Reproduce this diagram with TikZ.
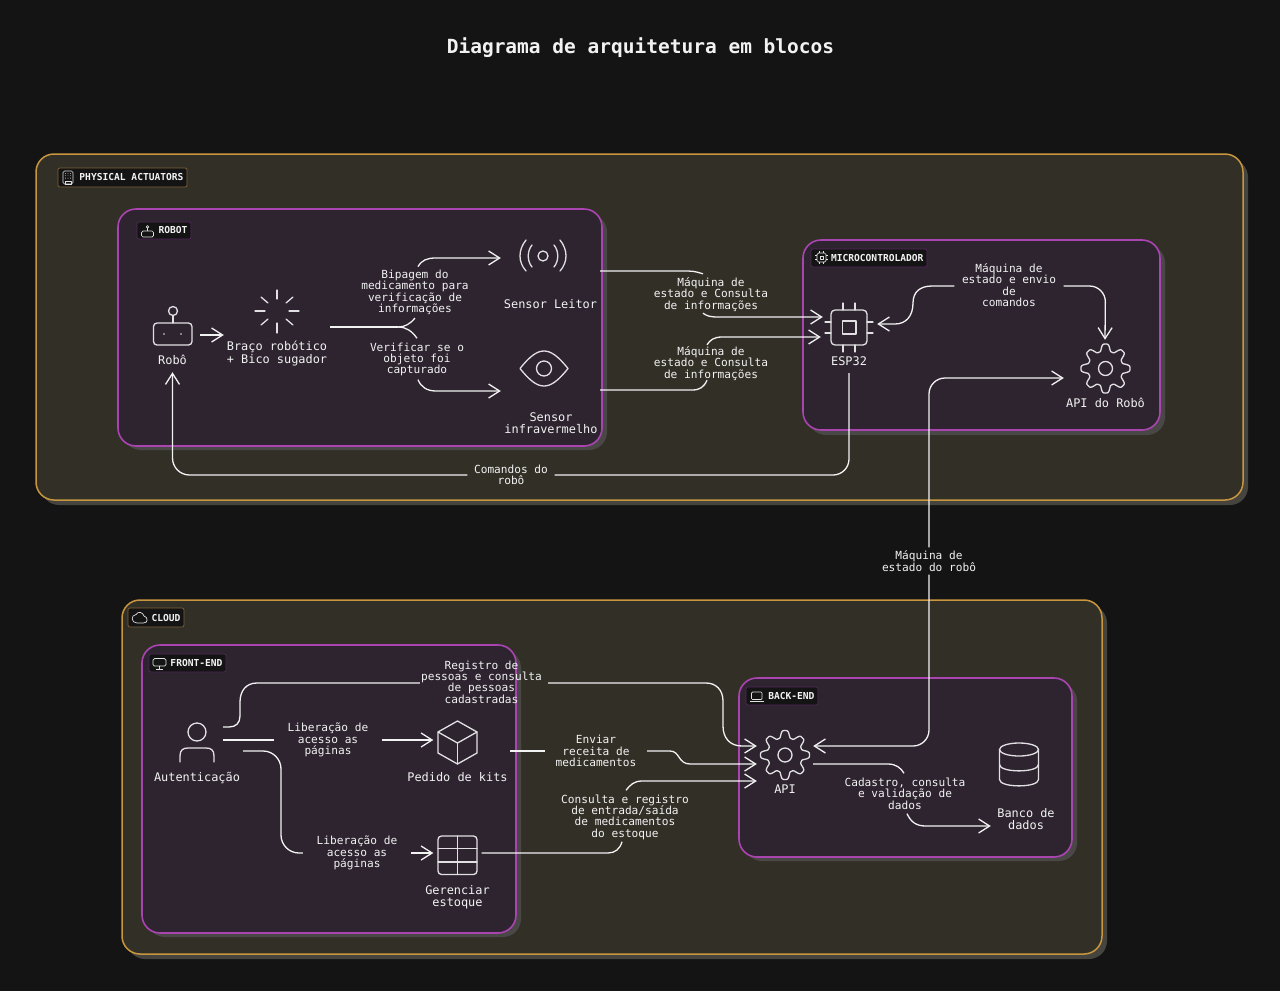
\documentclass[tikz,border=0pt]{standalone}
\usepackage{fontspec}
\setmainfont{DejaVu Sans Mono}
\usetikzlibrary{arrows.meta}
\definecolor{bgc}{HTML}{141414}
\definecolor{outerf}{HTML}{322F27}
\definecolor{outerb}{HTML}{C8963E}
\definecolor{outers}{HTML}{45443F}
\definecolor{innerf}{HTML}{2D2430}
\definecolor{innerb}{HTML}{AA44B0}
\definecolor{inners}{HTML}{4A4846}
\definecolor{ink}{HTML}{F2F2F2}
\definecolor{iconc}{HTML}{E2E0E2}
\definecolor{dimo}{HTML}{7A6238}
\definecolor{dimp}{HTML}{54285A}
\tikzset{
  x=1pt,y=-1pt,
  outerbox/.style={draw=outerb,fill=outerf,line width=1.5pt,rounded corners=18pt},
  outershadow/.style={fill=outers,rounded corners=18pt},
  innerbox/.style={draw=innerb,fill=innerf,line width=1.6pt,rounded corners=18pt},
  innershadow/.style={fill=inners,rounded corners=18pt},
  badgeo/.style={draw=dimo,fill=bgc,line width=.7pt,rounded corners=2pt,inner xsep=3.5pt,inner ysep=0pt,align=right,text=ink,font=\fontsize{9.6}{10}\selectfont\bfseries},
  badgep/.style={badgeo,draw=dimp},
  nodetxt/.style={inner sep=0pt,align=center,text=ink,font=\fontsize{11.9}{12.4}\selectfont},
  edgetxt/.style={inner sep=0pt,align=center,text=ink,font=\fontsize{11.15}{11.4}\selectfont},
  iconbox/.style={inner sep=0pt,draw=none},
  conn/.style={draw=ink,line width=1.3pt},
  arr/.style={conn,-{Straight Barb[length=11pt,width=14pt,line width=1.3pt]}},
  ic/.style={draw=iconc,line width=1.3pt,line cap=round,line join=round},
  sic/.style={draw=iconc,line width=.7pt,line join=round},
}
\newcommand{\gearicon}[2]{%
  \draw[ic] plot[smooth cycle,samples=145,domain=0:357.5,variable=\t]
    ({#1+(21+4*(cos(8*\t)-0.14*cos(24*\t)))*cos(\t)},{#2+(21+4*(cos(8*\t)-0.14*cos(24*\t)))*sin(\t)});
  \draw[ic] (#1,#2) circle (7);
}
\begin{document}
\begin{tikzpicture}
\useasboundingbox (0,0) rectangle (1280,991);
\fill[bgc] (0,0) rectangle (1280,991);
\node[inner sep=0pt,text=ink,font=\fontsize{19.5}{20}\selectfont\bfseries] (title) at (640.5,48) {Diagrama de arquitetura em blocos};

% containers
\fill[outershadow] (41,159) rectangle (1248,505);
\node[outerbox,minimum width=1207,minimum height=346,inner sep=0pt] (physical) at (639.5,327) {};
\fill[outershadow] (127,605) rectangle (1107,959);
\node[outerbox,minimum width=980,minimum height=354,inner sep=0pt] (cloud) at (612,777) {};
\fill[innershadow] (123,214) rectangle (607,450);
\node[innerbox,minimum width=484,minimum height=237,inner sep=0pt] (robotgroup) at (360,327.5) {};
\fill[innershadow] (808,245) rectangle (1165,435);
\node[innerbox,minimum width=357,minimum height=190,inner sep=0pt] (microgroup) at (981.5,335) {};
\fill[innershadow] (147,650) rectangle (521,937);
\node[innerbox,minimum width=374,minimum height=288,inner sep=0pt] (frontgroup) at (329,789) {};
\fill[innershadow] (744,683) rectangle (1077,861);
\node[innerbox,minimum width=333,minimum height=179,inner sep=0pt] (backgroup) at (905.5,767.5) {};

% badges
\node[badgeo,minimum height=19,text width=122] (b1) at (122.5,177.5) {PHYSICAL\hspace{.602em}ACTUATORS};
\node[badgep,minimum height=17,text width=47] (b2) at (164,230.5) {ROBOT};
\node[badgep,minimum height=18,text width=109] (b3) at (869,258) {MICROCONTROLADOR};
\node[badgeo,minimum height=19,text width=49] (b4) at (156,617.5) {CLOUD};
\node[badgep,minimum height=18,text width=70] (b5) at (187.5,663) {FRONT-END};
\node[badgep,minimum height=18,text width=65] (b6) at (782,696) {BACK-END};
% badge icons
\draw[sic,rounded corners=1.5] (63,171) rectangle (73,184);
\draw[sic] (65,181) rectangle (71,184);
\foreach \a in {65.5,68,70.5}\foreach \b in {173.5,175.8,178.1}\fill[iconc] (\a,\b) circle (.4);
\draw[sic,rounded corners=1.5] (141.5,231) rectangle (153.5,237);
\draw[sic] (147.5,231) -- (147.5,228); \draw[sic] (147.5,226.8) circle (1.3);
\draw[sic,rounded corners=1.5] (817,253) rectangle (826,262);
\draw[sic] (820,256) rectangle (823,259);
\foreach \a in {819.5,823.5}{\draw[sic] (\a,251) -- (\a,253); \draw[sic] (\a,262) -- (\a,264);}
\foreach \b in {255.5,259.5}{\draw[sic] (815,\b) -- (817,\b); \draw[sic] (826,\b) -- (828,\b);}
\draw[sic] (137,623) .. controls (131,623) and (130.5,615) .. (136,614.5) .. controls (138,611) and (143,612) .. (144,616) .. controls (148,617) and (148.5,623) .. (143.5,623) -- cycle;
\draw[sic,rounded corners=1.5] (153,658.5) rectangle (166,666);
\draw[sic] (159.5,666) -- (159.5,669); \draw[sic] (156,669) -- (163,669);
\draw[sic,rounded corners=1] (751.5,692) rectangle (762,699.5);
\draw[sic] (750,701) -- (763.5,701);

% icons : nodes
\node[iconbox,minimum width=55,minimum height=44] (robot) at (172.5,335) {};
\draw[ic,rounded corners=3.5] (153.5,323) rectangle (192,345);
\draw[ic] (173,311) circle (4.5); \draw[ic] (173,315.5) -- (173,323);
\fill[iconc] (164,334) circle (.8); \fill[iconc] (181,334) circle (.8);
\node[iconbox,minimum width=106,minimum height=43] (arm) at (277,311.5) {};
\foreach \a/\b/\c/\d in {277/290/277/299, 277/323/277/333, 255/311/265/311, 289/311/299/311, 261/297/268/303, 293/297/286/303, 261/325/268/319, 293/325/286/319}
  \draw[ic] (\a,\b) -- (\c,\d);
\node[iconbox,minimum width=84,minimum height=36] (leitor) at (543,256) {};
\draw[ic] (543,256) circle (5);
\draw[ic] (532,245) .. controls (527,251) and (527,261) .. (532,267);
\draw[ic] (554,245) .. controls (559,251) and (559,261) .. (554,267);
\draw[ic] (526,240) .. controls (518,250) and (518,262) .. (526,271);
\draw[ic] (560,240) .. controls (568,250) and (568,262) .. (560,271);
\node[iconbox,minimum width=86,minimum height=36] (eye) at (544,368) {};
\draw[ic] (520,368.5) .. controls (530,356) and (537,351) .. (544,351) .. controls (551,351) and (558,356) .. (568,368.5) .. controls (558,381) and (551,386) .. (544,386) .. controls (537,386) and (530,381) .. (520,368.5) -- cycle;
\draw[ic] (544,368.5) circle (7.5);
\node[iconbox,minimum width=48,minimum height=48] (esp) at (849,327.5) {};
\draw[ic,rounded corners=4] (831,310) rectangle (867,345);
\draw[ic] (842.5,321) rectangle (856,334);
\foreach \a in {843,855}{\draw[ic] (\a,303) -- (\a,310); \draw[ic] (\a,345) -- (\a,352);}
\foreach \b in {322,333}{\draw[ic] (825,\b) -- (831,\b); \draw[ic] (867,\b) -- (873,\b);}
\node[iconbox,minimum width=56,minimum height=56] (gearrobo) at (1105,368) {};
\gearicon{1105.5}{368.5}
\node[iconbox,minimum width=52,minimum height=40] (auth) at (197,747) {};
\draw[ic] (197,732) circle (9);
\draw[ic] (180,762) -- (180,756) .. controls (180,750) and (183,748) .. (188,748) -- (206,748) .. controls (211,748) and (214,750) .. (214,756) -- (214,762);
\node[iconbox,minimum width=48,minimum height=44] (cube) at (457.5,743) {};
\draw[ic] (457.5,721) -- (477,732) -- (477,753) -- (457.5,764) -- (438,753) -- (438,732) -- cycle;
\draw[ic] (438,732) -- (457.5,743) -- (477,732); \draw[ic] (457.5,743) -- (457.5,764);
\node[iconbox,minimum width=48,minimum height=40] (grid) at (457.5,855) {};
\draw[ic,rounded corners=3.5] (438,836) rectangle (477,874.5);
\draw[ic] (438,848.5) -- (477,848.5); \draw[ic] (438,862) -- (477,862); \draw[ic] (457.5,836) -- (457.5,874.5);
\node[iconbox,minimum width=56,minimum height=56] (api) at (785,755) {};
\gearicon{785}{755}
\node[iconbox,minimum width=56,minimum height=44] (db) at (1019,764.5) {};
\draw[ic] (1019,749.5) ellipse (19.5 and 6.5);
\draw[ic] (999.5,749.5) -- (999.5,779.5) .. controls (999.5,788) and (1038.5,788) .. (1038.5,779.5) -- (1038.5,749.5);
\draw[ic] (999.5,764.5) .. controls (999.5,773) and (1038.5,773) .. (1038.5,764.5);

% node labels
\node[nodetxt,minimum height=24] (lrobot) at (172.5,360) {Robô};
\node[nodetxt] (larm) at (277,353.5) {Braço robótico\\+ Bico sugador};
\node[nodetxt] (lleitor) at (550.5,304) {Sensor Leitor};
\node[nodetxt] (leye) at (551,423) {Sensor\\infravermelho};
\node[nodetxt,minimum height=24] (lesp) at (849,361) {ESP32};
\node[nodetxt] (lgear) at (1105.5,403) {API do Robô};
\node[nodetxt] (lauth) at (197,778) {Autenticação};
\node[nodetxt] (lcube) at (457.5,777) {Pedido de kits};
\node[nodetxt] (lgrid) at (457.5,897) {Gerenciar\\estoque};
\node[nodetxt] (lapi) at (785,789) {API};
\node[nodetxt,minimum width=70] (ldb) at (1026,819) {Banco de\\dados};

% connector labels
\node[edgetxt,minimum height=53] (eBip) at (415,292.3) {Bipagem do\\medicamento para\\verificação de\\informações};
\node[edgetxt,minimum height=40] (eVer) at (417,359.5) {Verificar se o\\objeto foi\\capturado};
\node[edgetxt,minimum height=39] (eMq1) at (711,294.5) {Máquina de\\estado e Consulta\\de informações};
\node[edgetxt,minimum height=35] (eMq2) at (711,363.5) {Máquina de\\estado e Consulta\\de informações};
\node[edgetxt,minimum width=109] (eMic) at (1009,285) {Máquina de\\estado e envio\\de\\comandos};
\node[edgetxt,minimum width=87] (eCmd) at (511,475) {Comandos do\\robô};
\node[edgetxt,minimum height=27] (eRob) at (929,561) {Máquina de\\estado do robô};
\node[edgetxt,minimum width=123] (eReg) at (481.5,682) {Registro de\\pessoas e consulta\\de pessoas\\cadastradas};
\node[edgetxt,minimum width=108] (eLi1) at (328,740) {Liberação de\\acesso as\\páginas};
\node[edgetxt,minimum width=108] (eLi2) at (357,853) {Liberação de\\acesso as\\páginas};
\node[edgetxt,minimum width=102] (eEnv) at (596,751) {Enviar\\receita de\\medicamentos};
\node[edgetxt,minimum height=51] (eCon) at (625,817) {Consulta e registro\\de entrada/saída\\de medicamentos\\do estoque};
\node[edgetxt,minimum height=40] (eCad) at (905,793.5) {Cadastro, consulta\\e validação de\\dados};

% connectors
\draw[arr] (robot.east) -- ([yshift=-23.5]arm.west);
\draw[conn,line width=2.2pt] ([yshift=-15.5]arm.east) -- (398,327);
\draw[conn] (398,327) .. controls (405,327) and (410,324) .. ([yshift=1]eBip.south);
\draw[conn] (398,327) .. controls (406,327) and (412,331) .. ([yshift=1]eVer.north);
\draw[arr] ([xshift=3,yshift=-1]eBip.north) .. controls (422,260) and (427,258) .. (436,258) -- ([yshift=-2]leitor.west);
\draw[arr] ([xshift=1]eVer.south) .. controls (421,387) and (427,391) .. (436,391) -- ([yshift=-23]eye.west);
\draw[conn] ([xshift=15,yshift=-15]leitor.east) -- (688,271) .. controls (695,271) and (700,273) .. ([xshift=-8,yshift=1]eMq1.north);
\draw[arr] ([xshift=-8,yshift=1]eMq1.south) .. controls (707,316) and (710,317) .. (718,317) -- ([xshift=-2,yshift=10.5]esp.west);
\draw[conn] ([xshift=13,yshift=-22]eye.east) -- (692,390) .. controls (700,390) and (704,387) .. ([xshift=-4,yshift=1]eMq2.south);
\draw[arr] ([xshift=-4,yshift=1]eMq2.north) .. controls (710,340) and (714,337) .. (722,337) -- ([xshift=-4,yshift=-9.5]esp.west);
\draw[arr] ([yshift=-1]eMic.west) -- (932,286) .. controls (920,286) and (913,292) .. (913,303) .. controls (913,316) and (906,324) .. (895,324) -- ([xshift=4,yshift=3.5]esp.east);
\draw[arr,rounded corners=16] ([yshift=-1]eMic.east) -- (1105.5,286) -- (gearrobo.north);
\draw[conn,rounded corners=16] (lesp.south) -- (849,475) -- (eCmd.east);
\draw[arr,rounded corners=17] (eCmd.west) -- (172.5,475) -- (lrobot.south);
\draw[arr,rounded corners=16] (eRob.north) -- (929,378) -- ([xshift=-13,yshift=-10]gearrobo.west);
\draw[arr,rounded corners=16] (eRob.south) -- (929,746) -- ([yshift=9]api.east);
\draw[conn] ([yshift=20]auth.east) -- (229,727) .. controls (236,727) and (240,723) .. (240,716) -- (240,702) .. controls (240,691) and (246,683) .. (257,683) -- ([yshift=-1]eReg.west);
\draw[arr] ([xshift=5,yshift=-1]eReg.east) -- (706,683) .. controls (716,683) and (723,690) .. (723,701) -- (723,726) .. controls (723,738) and (730,746) .. (742,746) -- ([yshift=9]api.west);
\draw[conn] ([yshift=7]auth.east) -- (eLi1.west);
\draw[arr] (eLi1.east) -- ([yshift=3]cube.west);
\draw[conn,rounded corners=18] ([xshift=20,yshift=-4]auth.east) -- (281,751) -- (281,853) -- (eLi2.west);
\draw[arr] (eLi2.east) -- ([yshift=2]grid.west);
\draw[conn] ([xshift=28.5,yshift=-8]cube.east) -- (eEnv.west);
\draw[arr] (eEnv.east) -- (670,751) .. controls (680,751) and (678,764) .. (690,764) -- ([yshift=-9]api.west);
\draw[conn] ([yshift=2]grid.east) -- (608,853) .. controls (615,853) and (620,849) .. ([xshift=-3,yshift=1]eCon.south);
\draw[arr] ([xshift=1,yshift=1]eCon.north) .. controls (630,785) and (634,781) .. (642,781) -- ([yshift=-26]api.west);
\draw[conn] ([yshift=-9]api.east) -- (888,764) .. controls (896,764) and (901,768) .. ([xshift=-1]eCad.north);
\draw[arr] ([xshift=2]eCad.south) .. controls (911,822) and (916,826) .. (926,826) -- ([yshift=-7]ldb.west);
\end{tikzpicture}
\end{document}
